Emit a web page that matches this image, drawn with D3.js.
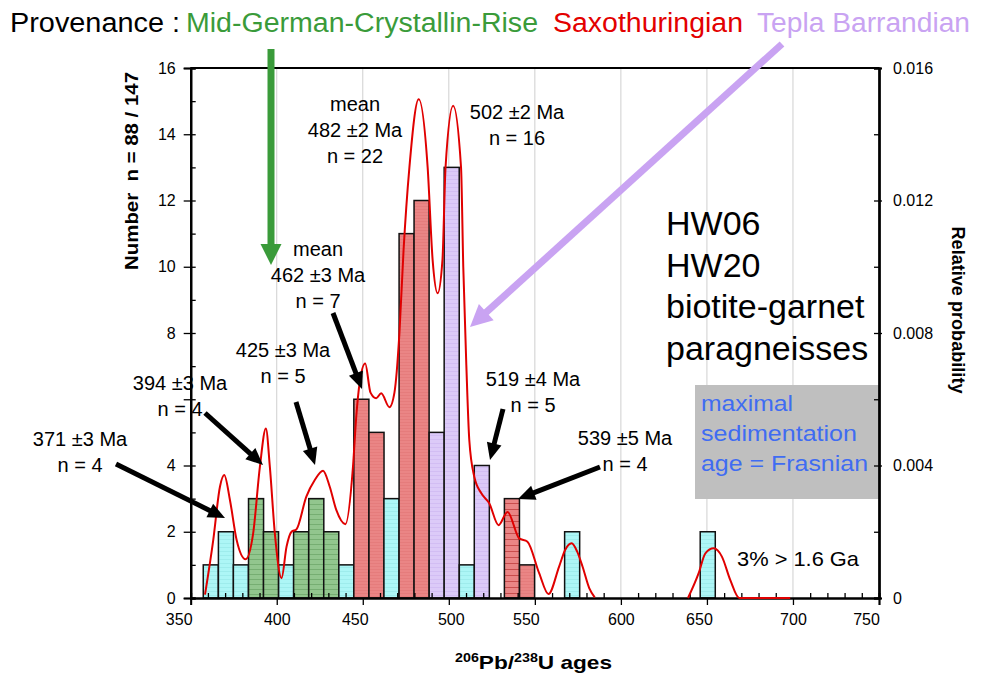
<!DOCTYPE html>
<html><head><meta charset="utf-8">
<script src="https://cdn.jsdelivr.net/npm/d3@7"></script>
<style>
body{margin:0;background:#fff}
svg{display:block}
text{font-family:"Liberation Sans",Arial,Helvetica,sans-serif}
</style>
</head><body>
<svg id="chart" width="986" height="676"></svg>
<script>
// ---------------- DATA ----------------
// histogram bins (start age in Ma), counts and provenance
const binStart  = [357.3,366.1,374.8,383.6,392.3,401.1,409.8,418.6,427.3,436.1,444.8,453.6,462.3,471.1,479.8,488.6,497.3,506.1,514.8,532.3,541.1,567.3,646.1];
const binCount  = [1,2,1,3,2,1,2,3,2,1,6,5,3,11,12,5,13,1,4,3,1,2,2];
const binSource = ["TB0","TB0","TB0","MG","MG","TB0","MG","MG","MG","TB0","SX","SX","TB0","SX","SX","TP","TP","TB0","TP","SXs","SX","TB0","TB0"];
const binWidth = 8.75;
// probability density curve (age, relative probability); null = gap
const pdfAge  = [358.3,363.1,367.0,369.5,372.8,376.7,381.9,386.3,390.2,393.7,396.0,398.9,402.8,405.7,408.6,411.4,417.2,422.1,426.9,430.8,434.6,439.9,444.3,446.2,448.2,451.4,454.5,457.8,460.7,465.5,468.4,471.3,473.7,477.1,482.5,487.7,490.6,493.5,496.3,498.1,502.5,507.1,508.4,510.2,511.9,514.8,518.9,523.5,528.9,534.1,540.9,545.7,552.5,557.9,564.1,567.6,571.4,574.6,577.7,581.6,584.8,
                 612,
                 639.0,645.2,649.1,653.9,658.7,663.6,668.8,684,698.4];
const pdfProb = [0.0001,0.00175,0.00336,0.00371,0.00296,0.00175,0.00117,0.00195,0.00396,0.00512,0.00396,0.00195,0.0006,0.00155,0.0020,0.00207,0.00306,0.00356,0.00384,0.00336,0.00266,0.00223,0.00396,0.00547,0.0065,0.00708,0.0062,0.00603,0.00618,0.00576,0.0062,0.0080,0.0105,0.0130,0.01506,0.0130,0.0102,0.0092,0.0102,0.0130,0.01486,0.0130,0.0100,0.0070,0.00477,0.00366,0.00316,0.00286,0.0022,0.0026,0.0018,0.0017,0.00075,0.00012,0.00095,0.00145,0.00165,0.0014,0.00095,0.0003,0.00002,
                 null,
                 0.0,0.00075,0.00135,0.0015,0.00125,0.00054,0.0,0.0,0.0];
const xTicks = [350,400,450,500,550,600,650,700,750];
const yTicks = [0,2,4,6,8,10,12,14,16];
const yTickLabels = ["0","2","4","","8","10","12","14","16"]; // "6" is hidden behind a note in the original
const pTicks = [0,0.004,0.008,0.012,0.016];
const pTickLabels = ["0","0.004","0.008","0.012","0.016"];

// ---------------- LAYOUT ----------------
const svg = d3.select("#chart");
const L = 190.7, R = 879, T = 68, B = 598;
const x = d3.scaleLinear().domain([350,750]).range([L,R]);
const y = d3.scaleLinear().domain([0,16]).range([B,T]);
const yp = d3.scaleLinear().domain([0,0.016]).range([B,T]);

const fills = {TB0:"url(#pCyan)", MG:"url(#pGreen)", SX:"url(#pRed)", SXs:"url(#pRedS)", TP:"url(#pLav)"};

const defs = svg.append("defs");
function pat(id, bg, line, gap, lw){
  const p = defs.append("pattern").attr("id",id).attr("patternUnits","userSpaceOnUse")
    .attr("width",6).attr("height",gap);
  p.append("rect").attr("width",6).attr("height",gap).attr("fill",bg);
  p.append("line").attr("x1",0).attr("x2",6).attr("y1",gap-0.5).attr("y2",gap-0.5)
    .attr("stroke",line).attr("stroke-width",lw);
}
pat("pCyan","#adf6f6","#93e6e6",4,0.6);
pat("pGreen","#92c68e","#6fa86b",5,0.8);
pat("pRed","#ea8585","#e07373",3,0.5);
pat("pRedS","#ea8585","#c84c4c",6,1);
pat("pLav","#dccaf8","#cbb3f0",4,0.6);

// gridlines
svg.append("g").selectAll("line").data(xTicks.filter(d=>d>350 && d<750)).join("line")
  .attr("x1",d=>x(d)).attr("x2",d=>x(d)).attr("y1",T).attr("y2",B)
  .attr("stroke","#cfcfcf").attr("stroke-width",1);

// grey box
svg.append("rect").attr("x",695).attr("y",385).attr("width",184).attr("height",114).attr("fill","#bfbfbf");
[["maximal",92],["sedimentation",156],["age = Frasnian",167]].forEach((t,i)=>
  svg.append("text").attr("fill","#3f6cf2").attr("font-size",21.5).attr("x",701).attr("y",411+i*30)
    .attr("textLength",t[1]).attr("lengthAdjust","spacingAndGlyphs").text(t[0]));

// bars
const bars = binStart.map((s,i)=>({s, c:binCount[i], src:binSource[i]}));
svg.append("g").selectAll("rect").data(bars).join("rect")
  .attr("x",d=>x(d.s)).attr("width",d=>x(d.s+binWidth)-x(d.s))
  .attr("y",d=>y(d.c)).attr("height",d=>y(0)-y(d.c))
  .attr("fill",d=>fills[d.src]).attr("stroke","#111").attr("stroke-width",1.5);

// axes
svg.append("line").attr("x1",L).attr("x2",R).attr("y1",T).attr("y2",T).attr("stroke","#000").attr("stroke-width",2);
// left axis
const gl = svg.append("g").attr("transform",`translate(${L},0)`);
gl.call(d3.axisLeft(y).tickValues(yTicks).tickSize(7).tickPadding(8).tickFormat((d,i)=>yTickLabels[i]));
gl.append("g").call(d3.axisLeft(y).tickValues(yTicks).tickSize(-5).tickFormat(""));
gl.append("g").call(d3.axisLeft(y).tickValues([1,3,5,7,9,11,13,15]).tickSize(-5).tickFormat(""));
// right axis
const gr = svg.append("g").attr("transform",`translate(${R},0)`);
gr.call(d3.axisRight(yp).tickValues(pTicks).tickSize(3).tickPadding(11).tickFormat((d,i)=>pTickLabels[i]));
gr.append("g").call(d3.axisRight(yp).tickValues(pTicks).tickSize(-5).tickFormat(""));
gr.append("g").call(d3.axisRight(yp).tickValues([0.002,0.006,0.010,0.014]).tickSize(-5).tickFormat(""));
// bottom axis
const labelShift = {350:-12,450:-8,500:2,550:-9,650:-8,750:-13};
const gb = svg.append("g").attr("transform",`translate(0,${B})`);
gb.call(d3.axisBottom(x).tickValues(xTicks).tickSize(7).tickPadding(9).tickFormat(d3.format("d")));
gb.selectAll(".tick text").attr("dx",d=>labelShift[d]||0);
gb.append("g").call(d3.axisBottom(x).tickValues(d3.range(360,750,10).filter(d=>d%50)).tickSize(-5).tickFormat(""));
svg.selectAll(".domain").attr("stroke-width",2).attr("stroke","#000");
svg.selectAll(".tick line").attr("stroke","#000").attr("stroke-width",1.3);
svg.selectAll(".tick text").attr("font-size",16).attr("font-family","Liberation Sans, Arial, sans-serif").attr("fill","#000");

// pdf curve (drawn over the axis, as in the reference)
const pdf = pdfAge.map((a,i)=>({a, p:pdfProb[i]}));
svg.append("path").datum(pdf)
  .attr("d", d3.line().defined(d=>d.p!==null).x(d=>x(d.a)).y(d=>yp(d.p)).curve(d3.curveMonotoneX))
  .attr("fill","none").attr("stroke","#e00000").attr("stroke-width",2);

// axis titles
svg.append("text").attr("x",455).attr("y",669)
  .attr("font-size",19).attr("font-weight","bold")
  .attr("textLength",157).attr("lengthAdjust","spacingAndGlyphs")
  .call(t=>{t.append("tspan").attr("font-size",12).attr("dy",-7).text("206");
            t.append("tspan").attr("dy",7).text("Pb/");
            t.append("tspan").attr("font-size",12).attr("dy",-7).text("238");
            t.append("tspan").attr("dy",7).text("U ages");});
svg.append("text").attr("transform","translate(138,171) rotate(-90)").attr("text-anchor","middle")
  .attr("font-size",18).attr("font-weight","bold").attr("xml:space","preserve")
  .attr("textLength",198).attr("lengthAdjust","spacingAndGlyphs").text("Number  n = 88 / 147");
svg.append("text").attr("transform","translate(952,310) rotate(90)").attr("text-anchor","middle")
  .attr("font-size",17.5).attr("font-weight","bold")
  .attr("textLength",167).attr("lengthAdjust","spacingAndGlyphs").text("Relative probability");

// title
[["Provenance :",10,170,"#000"],["Mid-German-Crystallin-Rise",186,352,"#3a9b3a"],
 ["Saxothuringian",553,190,"#e30000"],["Tepla Barrandian",757,213,"#c9a3f2"]].forEach(t=>
  svg.append("text").attr("x",t[1]).attr("y",32).attr("font-size",27).attr("fill",t[3])
    .attr("textLength",t[2]).attr("lengthAdjust","spacingAndGlyphs").text(t[0]));

// sample label
const hw = svg.append("text").attr("font-size",34).attr("fill","#000");
["HW06","HW20","biotite-garnet","paragneisses"].forEach((t,i)=>
  hw.append("tspan").attr("x",666).attr("y",235+i*41.5).text(t));

// annotations
const notes = [
  {x:355, y:111, lines:["mean","482 ±2 Ma","n = 22"]},
  {x:517, y:119, lines:["502 ±2 Ma","n = 16"]},
  {x:318, y:256, lines:["mean","462 ±3 Ma","n = 7"]},
  {x:283, y:357, lines:["425 ±3 Ma","n = 5"]},
  {x:180, y:390, lines:["394 ±3 Ma","n = 4"]},
  {x:80,  y:446, lines:["371 ±3 Ma","n = 4"]},
  {x:533, y:386, lines:["519 ±4 Ma","n = 5"]},
  {x:625, y:445, lines:["539 ±5 Ma","n = 4"]}
];
notes.forEach(n=>{
  const t = svg.append("text").attr("font-size",20).attr("text-anchor","middle").attr("fill","#000");
  n.lines.forEach((l,i)=>t.append("tspan").attr("x",n.x).attr("y",n.y+i*26).text(l));
});
svg.append("text").attr("x",737).attr("y",566).attr("font-size",21)
  .attr("textLength",122).attr("lengthAdjust","spacingAndGlyphs").text("3% > 1.6 Ga");

function arrow(x1,y1,x2,y2,w,hl,hw,color){
  const dx=x2-x1, dy=y2-y1, len=Math.hypot(dx,dy), ux=dx/len, uy=dy/len, px=-uy, py=ux;
  const bx=x2-ux*hl, by=y2-uy*hl;
  svg.append("line").attr("x1",x1).attr("y1",y1).attr("x2",bx+ux*1).attr("y2",by+uy*1)
    .attr("stroke",color).attr("stroke-width",w);
  svg.append("path").attr("d",`M${x2},${y2}L${bx+px*hw/2},${by+py*hw/2}L${bx-px*hw/2},${by-py*hw/2}Z`).attr("fill",color);
}
arrow(116,464,225,518,5,17,15,"#000");
arrow(205,413,263,465,5,17,15,"#000");
arrow(296,402,315,465,5,17,15,"#000");
arrow(333,313,362,389,5,17,15,"#000");
arrow(503,409,490,460,5,17,15,"#000");
arrow(600,467,518,499,5,17,15,"#000");
arrow(271,49,271,265,7,21,21,"#3a9b3a");
arrow(782,44,470,327,7,22,22,"#c9a3f2");
</script>
</body></html>
